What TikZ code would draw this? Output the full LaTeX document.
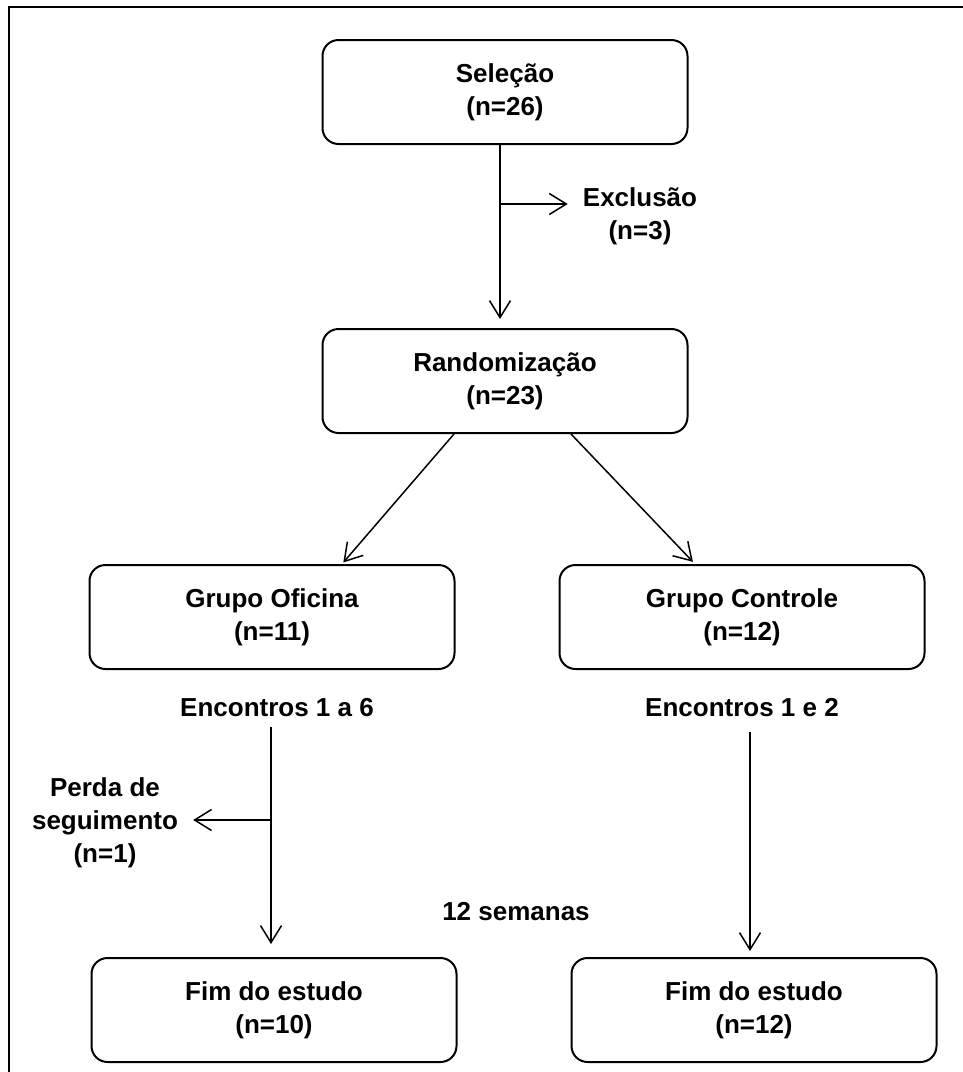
\documentclass[tikz,border=0pt]{standalone}
\usepackage{fontspec}
\setmainfont{Liberation Sans}
\usetikzlibrary{positioning,arrows.meta}

\begin{document}
\begin{tikzpicture}[
    x=1pt, y=-1pt,
    >={Straight Barb[length=17pt,width=21pt]},
    font=\fontsize{26}{33}\selectfont\bfseries,
    box/.style={
        draw,
        line width=2pt,
        rounded corners=16pt,
        align=center,
        minimum width=365pt,
        minimum height=104pt
    },
    rotulo/.style={align=center, inner xsep=15pt, inner ysep=8pt},
    seta/.style={->, line width=1.5pt}
]
    \useasboundingbox (0,0) rectangle (963,1072);
    % Moldura
    \draw[line width=1.3pt] (963,7) -- (9,7) -- (9,1072);

    % Caixas
    \node[box] (sel) at (505,92) {Seleção\\(n=26)};
    \node[box, below=183pt of sel] (rand) {Randomização\\(n=23)};
    \node[box] (ofic) at (272,617) {Grupo Oficina\\(n=11)};
    \node[box] (ctrl) at (742,617) {Grupo Controle\\(n=12)};
    \node[box] (fim1) at (274,1010) {Fim do estudo\\(n=10)};
    \node[box] (fim2) at (754,1010) {Fim do estudo\\(n=12)};

    % Rótulos
    \node[rotulo] (exc) at (640,216) {Exclusão\\(n=3)};
    \node[rotulo] (enc1) at (277,708) {Encontros 1 a 6};
    \node[rotulo] (enc2) at (742,708) {Encontros 1 e 2};
    \node[rotulo] (perda) at (105,823) {Perda de\\seguimento\\(n=1)};
    \node[rotulo] (sem) at (516,912) {12 semanas};

    % Setas
    \coordinate (f1) at (500,204);
    \coordinate (f2) at (271,820);
    \coordinate (c1) at ([xshift=-3pt]fim1.north);
    \coordinate (c2) at ([xshift=-4pt]fim2.north);
    \draw[seta, shorten >=9pt] ([xshift=-5pt]sel.south) -- ([xshift=-5pt]rand.north);
    \draw[seta] (f1) -- (f1 -| exc.west);
    \draw[seta, shorten >=2pt] ([xshift=-51pt]rand.south) -- ([xshift=70pt]ofic.north);
    \draw[seta, shorten >=3pt] ([xshift=66pt]rand.south) -- ([xshift=-47pt]ctrl.north);
    \draw[seta, shorten <=2pt, shorten >=13pt] (enc1.south -| c1) -- (c1);
    \draw[seta] (f2) -- (f2 -| perda.east);
    \draw[seta, shorten <=7pt, shorten >=6pt] (enc2.south -| c2) -- (c2);
\end{tikzpicture}
\end{document}
